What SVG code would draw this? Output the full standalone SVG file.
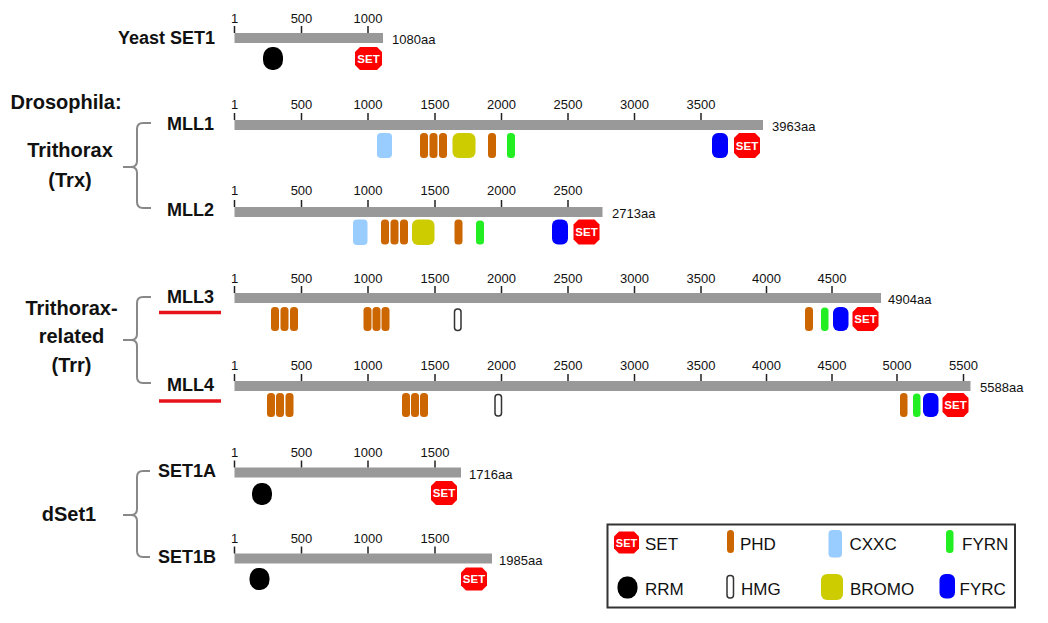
<svg xmlns="http://www.w3.org/2000/svg" width="1048" height="623" viewBox="0 0 1048 623">
<style>
.bg{fill:#fff}
.bar{fill:#999}
.tick{stroke:#222;stroke-width:1.5;fill:none}
.tl{font-family:"Liberation Sans",Arial,sans-serif;font-size:13px;fill:#111;text-anchor:middle}
.len{font-family:"Liberation Sans",Arial,sans-serif;font-size:13px;fill:#111}
.name{font-family:"Liberation Sans",Arial,sans-serif;font-size:18px;font-weight:bold;fill:#111;text-anchor:end}
.grp{font-family:"Liberation Sans",Arial,sans-serif;font-size:20px;font-weight:bold;fill:#111;text-anchor:middle}
.leg{font-family:"Liberation Sans",Arial,sans-serif;font-size:17px;fill:#111}
.brk{stroke:#888;stroke-width:2;fill:none}
.ul{stroke:#e8141b;stroke-width:3.5}
.phd{fill:#cc6600}
.cxxc{fill:#99ccff}
.bromo{fill:#cccc00}
.fyrn{fill:#22ee22}
.fyrc{fill:#0000ff}
.set{fill:#ff0000}
.settx{font-family:"Liberation Sans",Arial,sans-serif;font-size:11.5px;font-weight:bold;fill:#fff;text-anchor:middle}
.rrm{fill:#000}
.hmg{fill:#fff;stroke:#333;stroke-width:1.5}
.box{fill:none;stroke:#333;stroke-width:2}
</style>
<rect class="bg" x="0" y="0" width="1048" height="623"/>

<g id="labels">
<text class="grp" x="66" y="109" style="text-anchor:middle">Drosophila:</text>
<text class="grp" x="70" y="157">Trithorax</text>
<text class="grp" x="70" y="187">(Trx)</text>
<text class="grp" x="71.5" y="315">Trithorax-</text>
<text class="grp" x="71.5" y="343">related</text>
<text class="grp" x="71.5" y="372">(Trr)</text>
<text class="grp" x="69" y="521">dSet1</text>
</g>

<g id="connectors">
<path class="brk" d="M151,123 H143 Q137,123 137,129 V161 Q137,167 131,167 H123 M131,167 Q137,167 137,173 V202 Q137,208 143,208 H151"/>
<path class="brk" d="M151,297 H143 Q137,297 137,303 V334 Q137,340 131,340 H123 M131,340 Q137,340 137,346 V377 Q137,383 143,383 H151"/>
<path class="brk" d="M150,471 H143 Q137,471 137,477 V509 Q137,515 131,515 H123 M131,515 Q137,515 137,521 V551 Q137,557 143,557 H150"/>
<line class="ul" x1="159" y1="312.5" x2="221" y2="312.5"/>
<line class="ul" x1="159" y1="401" x2="221" y2="401"/>
</g>

<g id="yeast-set1">
<text class="name" x="215" y="44">Yeast SET1</text>
<rect class="bar" x="234.5" y="33" width="148.5" height="10"/>
<path class="tick" d="M234.5,26V33 M301.5,26V33 M368,26V33"/>
<text class="tl" x="234.5" y="22.5">1</text>
<text class="tl" x="301.5" y="22.5">500</text>
<text class="tl" x="368" y="22.5">1000</text>
<text class="len" x="392" y="44">1080aa</text>
<rect class="rrm" x="263" y="47" width="20" height="23" rx="9" ry="10"/>
<polygon class="set" points="360,47 377,47 382,52 382,65 377,70 360,70 355,65 355,52"/>
<text class="settx" x="368.5" y="62.5">SET</text>
</g>

<g id="mll1">
<text class="name" x="214" y="129.5">MLL1</text>
<rect class="bar" x="234.5" y="120" width="528.5" height="10"/>
<path class="tick" d="M234.5,113V120 M301.5,113V120 M368,113V120 M435,113V120 M501.5,113V120 M568,113V120 M634.5,113V120 M701,113V120"/>
<text class="tl" x="234.5" y="108.5">1</text>
<text class="tl" x="301.5" y="108.5">500</text>
<text class="tl" x="368" y="108.5">1000</text>
<text class="tl" x="435" y="108.5">1500</text>
<text class="tl" x="501.5" y="108.5">2000</text>
<text class="tl" x="568" y="108.5">2500</text>
<text class="tl" x="634.5" y="108.5">3000</text>
<text class="tl" x="701" y="108.5">3500</text>
<text class="len" x="772" y="131">3963aa</text>
<rect class="cxxc" x="377" y="133" width="15" height="25" rx="4"/>
<rect class="phd" x="420" y="133" width="8" height="25" rx="3.5"/>
<rect class="phd" x="429.5" y="133" width="8" height="25" rx="3.5"/>
<rect class="phd" x="439" y="133" width="8" height="25" rx="3.5"/>
<rect class="bromo" x="452.5" y="133" width="23" height="25" rx="6"/>
<rect class="phd" x="488" y="133" width="8" height="25" rx="3.5"/>
<rect class="fyrn" x="507" y="133" width="8" height="25" rx="3.5"/>
<rect class="fyrc" x="712" y="133" width="16" height="25" rx="6"/>
<polygon class="set" points="739,133 755,133 760,138 760,153 755,158 739,158 734,153 734,138"/>
<text class="settx" x="747" y="149.5">SET</text>
</g>

<g id="mll2">
<text class="name" x="214" y="216">MLL2</text>
<rect class="bar" x="234.5" y="207" width="368" height="10"/>
<path class="tick" d="M234.5,200V207 M301.5,200V207 M368,200V207 M435,200V207 M501.5,200V207 M568,200V207"/>
<text class="tl" x="234.5" y="195">1</text>
<text class="tl" x="301.5" y="195">500</text>
<text class="tl" x="368" y="195">1000</text>
<text class="tl" x="435" y="195">1500</text>
<text class="tl" x="501.5" y="195">2000</text>
<text class="tl" x="568" y="195">2500</text>
<text class="len" x="612" y="218">2713aa</text>
<rect class="cxxc" x="353" y="219.5" width="14.5" height="25.5" rx="4"/>
<rect class="phd" x="381" y="219.5" width="8" height="25" rx="3.5"/>
<rect class="phd" x="390.5" y="219.5" width="8" height="25" rx="3.5"/>
<rect class="phd" x="400" y="219.5" width="8" height="25" rx="3.5"/>
<rect class="bromo" x="412" y="219.5" width="22.5" height="25.5" rx="6"/>
<rect class="phd" x="454.5" y="219.5" width="8" height="25" rx="3.5"/>
<rect class="fyrn" x="476" y="220.5" width="8" height="24" rx="3.5"/>
<rect class="fyrc" x="552" y="219.5" width="16" height="25" rx="6"/>
<polygon class="set" points="578.5,219.5 594.5,219.5 599.5,224.5 599.5,239.5 594.5,244.5 578.5,244.5 573.5,239.5 573.5,224.5"/>
<text class="settx" x="586.5" y="236">SET</text>
</g>

<g id="mll3">
<text class="name" x="214" y="302.5">MLL3</text>
<rect class="bar" x="234.5" y="293" width="646.5" height="10"/>
<path class="tick" d="M234.5,286V293 M301.5,286V293 M368,286V293 M435,286V293 M501.5,286V293 M568,286V293 M634.5,286V293 M701,286V293 M766.5,286V293 M832,286V293"/>
<text class="tl" x="234.5" y="282.5">1</text>
<text class="tl" x="301.5" y="282.5">500</text>
<text class="tl" x="368" y="282.5">1000</text>
<text class="tl" x="435" y="282.5">1500</text>
<text class="tl" x="501.5" y="282.5">2000</text>
<text class="tl" x="568" y="282.5">2500</text>
<text class="tl" x="634.5" y="282.5">3000</text>
<text class="tl" x="701" y="282.5">3500</text>
<text class="tl" x="766.5" y="282.5">4000</text>
<text class="tl" x="832" y="282.5">4500</text>
<text class="len" x="888" y="304">4904aa</text>
<rect class="phd" x="271" y="307" width="8" height="24" rx="3.5"/>
<rect class="phd" x="280.5" y="307" width="8" height="24" rx="3.5"/>
<rect class="phd" x="290" y="307" width="8" height="24" rx="3.5"/>
<rect class="phd" x="363.5" y="307" width="8" height="24" rx="3.5"/>
<rect class="phd" x="372.5" y="307" width="8" height="24" rx="3.5"/>
<rect class="phd" x="381.5" y="307" width="8" height="24" rx="3.5"/>
<rect class="hmg" x="454.5" y="309" width="6.5" height="21.5" rx="3"/>
<rect class="phd" x="805" y="307" width="8" height="24" rx="3.5"/>
<rect class="fyrn" x="821" y="307.5" width="7.5" height="23.5" rx="3.5"/>
<rect class="fyrc" x="833" y="307" width="15.5" height="24" rx="6"/>
<polygon class="set" points="857.5,307 873.5,307 878.5,312 878.5,326 873.5,331 857.5,331 852.5,326 852.5,312"/>
<text class="settx" x="865.5" y="323">SET</text>
</g>

<g id="mll4">
<text class="name" x="214" y="390.5">MLL4</text>
<rect class="bar" x="234.5" y="381" width="736" height="10"/>
<path class="tick" d="M234.5,374V381 M301.5,374V381 M368,374V381 M435,374V381 M501.5,374V381 M568,374V381 M634.5,374V381 M701,374V381 M766.5,374V381 M832,374V381 M897,374V381 M963.5,374V381"/>
<text class="tl" x="234.5" y="370">1</text>
<text class="tl" x="301.5" y="370">500</text>
<text class="tl" x="368" y="370">1000</text>
<text class="tl" x="435" y="370">1500</text>
<text class="tl" x="501.5" y="370">2000</text>
<text class="tl" x="568" y="370">2500</text>
<text class="tl" x="634.5" y="370">3000</text>
<text class="tl" x="701" y="370">3500</text>
<text class="tl" x="766.5" y="370">4000</text>
<text class="tl" x="832" y="370">4500</text>
<text class="tl" x="897" y="370">5000</text>
<text class="tl" x="963.5" y="370">5500</text>
<text class="len" x="980" y="392">5588aa</text>
<rect class="phd" x="267" y="393" width="8" height="24" rx="3.5"/>
<rect class="phd" x="276" y="393" width="8" height="24" rx="3.5"/>
<rect class="phd" x="285.5" y="393" width="8" height="24" rx="3.5"/>
<rect class="phd" x="402" y="393" width="8" height="24" rx="3.5"/>
<rect class="phd" x="411" y="393" width="8" height="24" rx="3.5"/>
<rect class="phd" x="420" y="393" width="8" height="24" rx="3.5"/>
<rect class="hmg" x="495" y="394.5" width="6.5" height="21.5" rx="3"/>
<rect class="phd" x="900" y="393" width="7.5" height="24" rx="3.5"/>
<rect class="fyrn" x="913" y="393.5" width="7.5" height="23.5" rx="3.5"/>
<rect class="fyrc" x="923" y="393" width="15.5" height="24" rx="6"/>
<polygon class="set" points="947.5,393 963.5,393 968.5,398 968.5,412 963.5,417 947.5,417 942.5,412 942.5,398"/>
<text class="settx" x="955.5" y="409">SET</text>
</g>

<g id="set1a">
<text class="name" x="216" y="477">SET1A</text>
<rect class="bar" x="234.5" y="467.5" width="226.5" height="10"/>
<path class="tick" d="M234.5,460.5V467.5 M301.5,460.5V467.5 M368,460.5V467.5 M435,460.5V467.5"/>
<text class="tl" x="234.5" y="456.5">1</text>
<text class="tl" x="301.5" y="456.5">500</text>
<text class="tl" x="368" y="456.5">1000</text>
<text class="tl" x="435" y="456.5">1500</text>
<text class="len" x="469" y="478.5">1716aa</text>
<rect class="rrm" x="252" y="483" width="20" height="22" rx="9" ry="10"/>
<polygon class="set" points="436,481 452,481 457,486 457,500 452,505 436,505 431,500 431,486"/>
<text class="settx" x="444" y="497">SET</text>
</g>

<g id="set1b">
<text class="name" x="216" y="563">SET1B</text>
<rect class="bar" x="234.5" y="553.5" width="257.5" height="10"/>
<path class="tick" d="M234.5,546.5V553.5 M301.5,546.5V553.5 M368,546.5V553.5 M435,546.5V553.5"/>
<text class="tl" x="234.5" y="543">1</text>
<text class="tl" x="301.5" y="543">500</text>
<text class="tl" x="368" y="543">1000</text>
<text class="tl" x="435" y="543">1500</text>
<text class="len" x="499" y="564.5">1985aa</text>
<rect class="rrm" x="249.5" y="568" width="20" height="22" rx="9" ry="10"/>
<polygon class="set" points="466,567.5 482,567.5 487,572.5 487,585.5 482,590.5 466,590.5 461,585.5 461,572.5"/>
<text class="settx" x="474" y="583">SET</text>
</g>

<g id="legend">
<rect class="box" x="607.5" y="524.5" width="407.5" height="83"/>
<polygon class="set" points="619,531.5 634,531.5 639,536.5 639,548.5 634,553.5 619,553.5 614,548.5 614,536.5"/>
<text class="settx" x="626.5" y="546.5" style="font-size:11px">SET</text>
<text class="leg" x="645" y="549.5">SET</text>
<rect class="phd" x="727" y="530" width="7" height="23" rx="3.5"/>
<text class="leg" x="740" y="549.5">PHD</text>
<rect class="cxxc" x="828.5" y="530" width="13.5" height="27.5" rx="4"/>
<text class="leg" x="849.5" y="549.5">CXXC</text>
<rect class="fyrn" x="946" y="530" width="7.5" height="23" rx="3.5"/>
<text class="leg" x="962" y="549.5">FYRN</text>
<rect class="rrm" x="617.5" y="576.5" width="20" height="22" rx="9" ry="10"/>
<text class="leg" x="645" y="595">RRM</text>
<rect class="hmg" x="727" y="575.5" width="6.5" height="22.5" rx="3"/>
<text class="leg" x="741" y="595">HMG</text>
<rect class="bromo" x="821" y="574" width="22" height="26" rx="6"/>
<text class="leg" x="850" y="595">BROMO</text>
<rect class="fyrc" x="939.5" y="574" width="15.5" height="24.5" rx="6"/>
<text class="leg" x="959.5" y="595">FYRC</text>
</g>
</svg>
